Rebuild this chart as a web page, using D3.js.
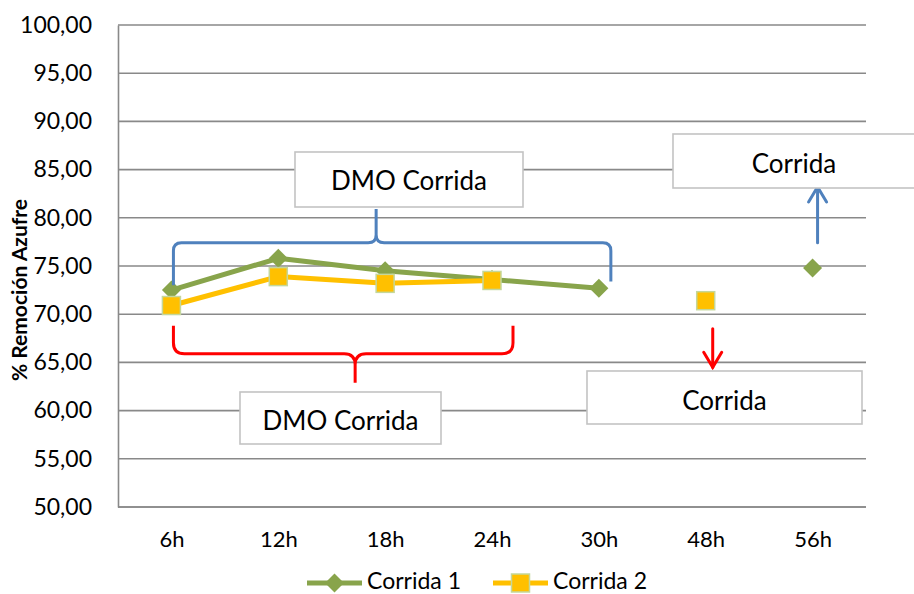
<!DOCTYPE html>
<html>
<head>
<meta charset="utf-8">
<script src="https://cdn.jsdelivr.net/npm/d3@7/dist/d3.min.js"></script>
<style>
  html, body { margin: 0; padding: 0; background: #fff; }
  svg { display: block; font-family: Lato, "Open Sans", sans-serif; }
</style>
</head>
<body>
<svg id="chart" width="914" height="594"></svg>
<script>
// Sampling times
const categories = ["6h", "12h", "18h", "24h", "30h", "48h", "56h"];
// % sulfur removal per run (null = no measurement)
const corrida1 = [72.5, 75.8, 74.5, 73.6, 72.7, null, 74.8];
const corrida2 = [70.9, 73.9, 73.2, 73.5, null, 71.4, null];
// Y axis ticks
const yTicks = [50, 55, 60, 65, 70, 75, 80, 85, 90, 95, 100];
const seriesNames = ["Corrida 1", "Corrida 2"];

(function () {
const green = "#88a44b", yellow = "#ffc000", markerEdge = "#c4d79b";
const blue = "#4f81bd", red = "#ff0000", grid = "#898989";

const svg = d3.select("#chart");
const pLeft = 118, pRight = 866, pTop = 25, pBottom = 507;

const x = d3.scalePoint().domain(categories).range([pLeft, pRight]).padding(0.5);
const y = d3.scaleLinear().domain([50, 100]).range([pBottom, pTop]);
const fmt = v => d3.format(".2f")(v).replace(".", ",");

// Gridlines
svg.append("g").selectAll("line").data(yTicks).join("line")
  .attr("x1", pLeft).attr("x2", pRight)
  .attr("y1", d => y(d)).attr("y2", d => y(d))
  .attr("stroke", grid).attr("stroke-width", 1.6);

// Y axis
const yAxis = svg.append("g").attr("transform", `translate(${pLeft},0)`)
  .call(d3.axisLeft(y).tickValues(yTicks).tickFormat(fmt).tickSize(0).tickPadding(26));
yAxis.select(".domain").attr("stroke", grid).attr("stroke-width", 1.6);
yAxis.selectAll("text").attr("font-size", 23).attr("fill", "#000")
  .attr("font-family", "Lato, sans-serif");

// X axis
const xAxis = svg.append("g").attr("transform", `translate(0,${pBottom})`)
  .call(d3.axisBottom(x).tickSize(0).tickPadding(24));
xAxis.select(".domain").attr("stroke", grid).attr("stroke-width", 1.6)
  .attr("d", `M${pLeft},0H${pRight}`);
xAxis.selectAll("text").attr("font-size", 22).attr("fill", "#000")
  .attr("font-family", "Lato, sans-serif");

// Y axis title
svg.append("text")
  .attr("transform", `translate(27,${(pTop + pBottom) / 2 + 24}) rotate(-90)`)
  .attr("text-anchor", "middle").attr("font-weight", "bold").attr("font-size", 21)
  .text("% Remoción Azufre");

// Series lines (gaps where data is missing)
const line = d3.line().defined(d => d.v != null).x(d => x(d.c)).y(d => y(d.v));
const s1 = categories.map((c, i) => ({ c, v: corrida1[i] }));
const s2 = categories.map((c, i) => ({ c, v: corrida2[i] }));

svg.append("path").datum(s1).attr("d", line).attr("fill", "none")
  .attr("stroke", green).attr("stroke-width", 5).attr("stroke-linejoin", "round");
svg.append("path").datum(s2).attr("d", line).attr("fill", "none")
  .attr("stroke", yellow).attr("stroke-width", 5).attr("stroke-linejoin", "round");

function diamondPath(cx, cy, r) {
  return `M${cx},${cy - r}L${cx + r},${cy}L${cx},${cy + r}L${cx - r},${cy}Z`;
}
svg.append("g").selectAll("path").data(s1.filter(d => d.v != null)).join("path")
  .attr("d", d => diamondPath(x(d.c), y(d.v), 9.5)).attr("fill", green);
svg.append("g").selectAll("rect").data(s2.filter(d => d.v != null)).join("rect")
  .attr("x", d => x(d.c) - 9).attr("y", d => y(d.v) - 9)
  .attr("width", 18).attr("height", 18)
  .attr("fill", yellow).attr("stroke", markerEdge).attr("stroke-width", 1.5);

// Curly brace: ends at yEnd, bar at yBar, tip reaching yTip at xTip
function brace(x0, x1, xTip, yEndL, yEndR, yBar, yTip, r) {
  const s = Math.sign(yTip - yBar);   // direction of the tip
  return [
    `M${x0},${yEndL}`,
    `L${x0},${yBar - s * r}`,
    `Q${x0},${yBar} ${x0 + r},${yBar}`,
    `L${xTip - r},${yBar}`,
    `Q${xTip},${yBar} ${xTip},${yBar + s * r}`,
    `L${xTip},${yTip}`,
    `M${xTip},${yBar + s * r}`,
    `Q${xTip},${yBar} ${xTip + r},${yBar}`,
    `L${x1 - r},${yBar}`,
    `Q${x1},${yBar} ${x1},${yBar - s * r}`,
    `L${x1},${yEndR}`
  ].join("");
}

// Upper (blue) brace over the first run's DMO period
svg.append("path")
  .attr("d", brace(x("6h") + 2, x("30h") + 12, x("18h") - 9,
                   y(73.0), y(73.4), y(77.4), y(80.9), 8))
  .attr("fill", "none").attr("stroke", blue).attr("stroke-width", 3);

// Lower (red) brace under the second run's DMO period
svg.append("path")
  .attr("d", brace(x("6h") + 2, x("24h") + 21, x("18h") - 30,
                   y(68.8), y(68.8), y(65.9), y(62.9), 11))
  .attr("fill", "none").attr("stroke", red).attr("stroke-width", 3);

// Arrows
function arrow(xa, y0, y1, color) {
  const dir = Math.sign(y1 - y0);
  const g = svg.append("g").attr("stroke", color).attr("stroke-width", 3)
    .attr("fill", "none").attr("stroke-linecap", "round");
  g.append("path").attr("d", `M${xa},${y0}L${xa},${y1}`);
  g.append("path").attr("d", `M${xa - 9},${y1 - dir * 15}L${xa},${y1}L${xa + 9},${y1 - dir * 15}`)
    .attr("stroke-linejoin", "miter");
}
arrow(x("56h") + 5, y(77.4), y(83.2), blue);
arrow(x("48h") + 7, y(68.5), y(64.5), red);

// Annotation boxes
const boxes = [
  { x0: 295, x1: 523, y0: 152, y1: 207, label: "DMO Corrida", dy: 10 },
  { x0: 240, x1: 441, y0: 392, y1: 444, label: "DMO Corrida", dy: 12 },
  { x0: 673, x1: 915, y0: 134, y1: 188, label: "Corrida", cx: 794, dy: 12 },
  { x0: 587, x1: 862, y0: 371, y1: 424, label: "Corrida", dy: 12 }
];
const bg = svg.append("g");
boxes.forEach(b => {
  bg.append("rect").attr("x", b.x0).attr("y", b.y0)
    .attr("width", b.x1 - b.x0).attr("height", b.y1 - b.y0)
    .attr("fill", "#fff").attr("stroke", "#c3c3c3").attr("stroke-width", 1.6);
  bg.append("text")
    .attr("x", b.cx != null ? b.cx : (b.x0 + b.x1) / 2)
    .attr("y", (b.y0 + b.y1) / 2 + b.dy)
    .attr("text-anchor", "middle").attr("font-size", 26)
    .text(b.label);
});

// Legend
const legend = svg.append("g");
const legendItems = [
  { name: seriesNames[0], color: green, kind: "diamond", x0: 307 },
  { name: seriesNames[1], color: yellow, kind: "square", x0: 493 }
];
const ly = 583;
legendItems.forEach(it => {
  legend.append("line").attr("x1", it.x0).attr("x2", it.x0 + 55)
    .attr("y1", ly).attr("y2", ly).attr("stroke", it.color).attr("stroke-width", 5);
  const cx = it.x0 + 27.5;
  if (it.kind === "diamond") {
    legend.append("path").attr("d", diamondPath(cx, ly, 9.5)).attr("fill", it.color);
  } else {
    legend.append("rect").attr("x", cx - 9).attr("y", ly - 9).attr("width", 18).attr("height", 18)
      .attr("fill", it.color).attr("stroke", markerEdge).attr("stroke-width", 1.5);
  }
  legend.append("text").attr("x", it.x0 + 60).attr("y", ly + 6)
    .attr("font-size", 23).text(it.name);
});
})();
</script>
</body>
</html>
